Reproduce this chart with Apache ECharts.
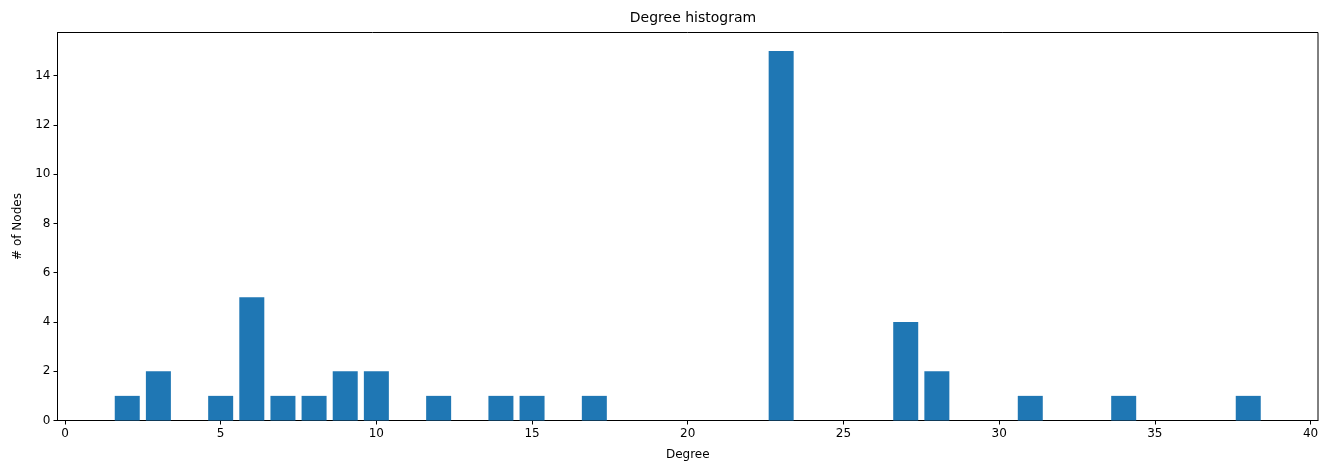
<!DOCTYPE html>
<html>
<head>
<meta charset="utf-8">
<script src="https://cdn.jsdelivr.net/npm/echarts@6/dist/echarts.min.js"></script>
<style>
  html, body { margin: 0; padding: 0; background: #fff; }
  #chart { width: 1325px; height: 463px; }
</style>
</head>
<body>
<div id="chart"></div>
<script>
// degree values and how many nodes have each
const degrees = [2, 3, 5, 6, 7, 8, 9, 10, 12, 14, 15, 17, 23, 27, 28, 31, 34, 38];
const counts = [1, 2, 1, 5, 1, 1, 2, 2, 1, 1, 1, 1, 15, 4, 2, 1, 1, 1];
const xTicks = [0, 5, 10, 15, 20, 25, 30, 35, 40];
const yTicks = [0, 2, 4, 6, 8, 10, 12, 14];

const font = "DejaVu Sans";
const chart = echarts.init(document.getElementById("chart"));

const option = {
  animation: false,
  title: {
    text: "Degree histogram",
    left: 688,
    textAlign: "center",
    top: 6,
    textStyle: { fontFamily: font, fontSize: 14, fontWeight: "normal", color: "#000" },
  },
  grid: {
    left: 57.5,
    right: 7,
    top: 32.5,
    bottom: 42.5,
    show: true,
    borderColor: "#000",
    borderWidth: 1,
    containLabel: false,
    outerBoundsMode: "none",
  },
  xAxis: {
    type: "value",
    min: -0.24,
    max: 40.24,
    name: "Degree",
    nameLocation: "middle",
    nameGap: 28,
    nameTextStyle: { fontFamily: font, fontSize: 12, color: "#000" },
    axisLine: { show: true, onZero: false, lineStyle: { color: "#000" } },
    axisTick: { show: true, length: 4, lineStyle: { color: "#000" }, customValues: xTicks },
    axisLabel: { fontFamily: font, fontSize: 12, color: "#000", margin: 7, customValues: xTicks },
    splitLine: { show: false },
  },
  yAxis: {
    type: "value",
    min: 0,
    max: 15.75,
    name: "# of Nodes",
    nameLocation: "middle",
    nameRotate: 90,
    nameGap: 33,
    nameTextStyle: { fontFamily: font, fontSize: 12, color: "#000" },
    axisLine: { show: true, onZero: false, lineStyle: { color: "#000" } },
    axisTick: { show: true, length: 4, lineStyle: { color: "#000" }, customValues: yTicks },
    axisLabel: { fontFamily: font, fontSize: 12, color: "#000", margin: 7, customValues: yTicks },
    splitLine: { show: false },
  },
  series: [
    {
      type: "bar",
      data: degrees.map((d, i) => [d, counts[i]]),
      barWidth: 25,
      itemStyle: { color: "#1f77b4" },
    },
  ],
};

chart.setOption(option);
</script>
</body>
</html>
